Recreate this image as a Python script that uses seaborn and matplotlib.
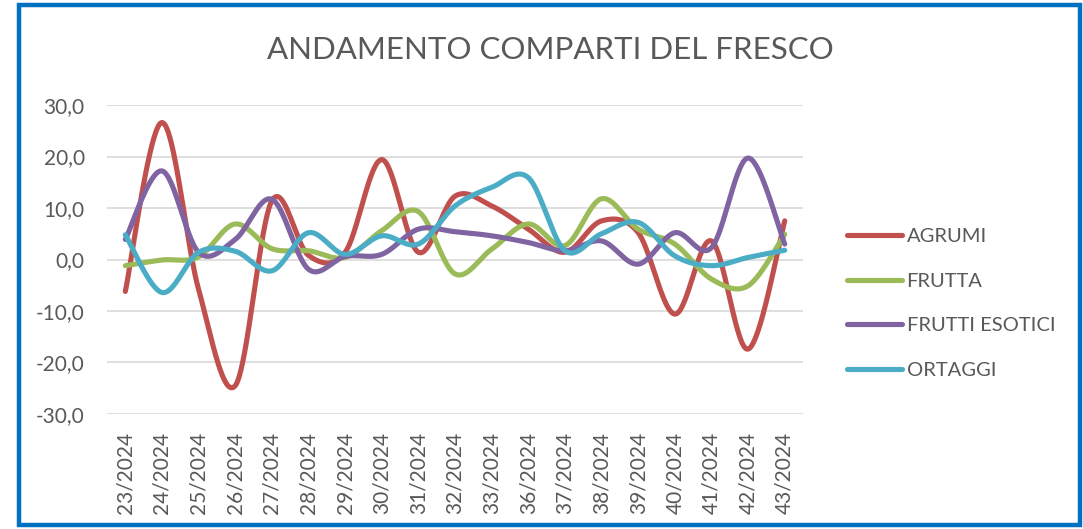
import numpy as np
import pandas as pd
import matplotlib
matplotlib.use("Agg")
import matplotlib.pyplot as plt
import seaborn as sns
from matplotlib.lines import Line2D
from matplotlib.patches import Rectangle

weeks = ["23/2024", "24/2024", "25/2024", "26/2024", "27/2024", "28/2024", "29/2024",
         "30/2024", "31/2024", "32/2024", "33/2024", "36/2024", "37/2024", "38/2024",
         "39/2024", "40/2024", "41/2024", "42/2024", "43/2024"]
agrumi = [-6.2, 26.6, -5.8, -24.5, 11.4, 0.8, 1.4, 19.4, 1.4, 12.3, 10.4, 5.9, 1.4, 7.5, 5.2, -10.6, 3.6, -17.4, 7.5]
frutta = [-1.2, -0.1, 0.5, 6.9, 2.1, 1.7, 0.4, 5.6, 9.3, -2.8, 2.0, 6.9, 2.7, 11.8, 5.9, 3.0, -3.8, -5.1, 4.9]
esotici = [3.9, 17.2, 1.4, 3.9, 11.7, -1.9, 0.6, 1.0, 5.9, 5.4, 4.6, 3.3, 1.7, 3.6, -0.9, 5.2, 2.3, 19.7, 3.0]
ortaggi = [4.8, -6.4, 1.4, 1.6, -2.2, 5.2, 1.0, 4.6, 3.0, 10.4, 14.0, 15.9, 1.7, 5.0, 7.2, 0.7, -1.2, 0.4, 1.8]

series = {"AGRUMI": agrumi, "FRUTTA": frutta, "FRUTTI ESOTICI": esotici, "ORTAGGI": ortaggi}
colors = {"AGRUMI": "#C0504D", "FRUTTA": "#9BBB59", "FRUTTI ESOTICI": "#8064A2", "ORTAGGI": "#4BACC6"}


def smooth(xs, ys, n=40):
    # Catmull-Rom style Bezier smoothing (as in spreadsheet "smoothed line")
    xs = np.asarray(xs, float)
    ys = np.asarray(ys, float)
    P = np.column_stack([xs, ys])
    out = []
    m = len(P)
    t = np.linspace(0, 1, n)[:, None]
    for i in range(m - 1):
        p0 = P[i - 1] if i > 0 else P[i]
        p1 = P[i]
        p2 = P[i + 1]
        p3 = P[i + 2] if i + 2 < m else P[i + 1]
        c1 = p1 + (p2 - p0) / 6.0
        c2 = p2 - (p3 - p1) / 6.0
        seg = ((1 - t) ** 3) * p1 + 3 * ((1 - t) ** 2) * t * c1 + 3 * (1 - t) * t ** 2 * c2 + t ** 3 * p2
        out.append(seg if i == 0 else seg[1:])
    arr = np.vstack(out)
    return arr[:, 0], arr[:, 1]


rows = []
xidx = np.arange(len(weeks))
for name, vals in series.items():
    sx, sy = smooth(xidx, vals)
    for a, b in zip(sx, sy):
        rows.append({"x": a, "y": b, "serie": name})
df = pd.DataFrame(rows)

sns.set_theme(style="white")
plt.rcParams["font.family"] = ["Lato", "DejaVu Sans"]

fig = plt.figure(figsize=(10.83, 5.29), dpi=100)
ax = fig.add_axes([0.0988, 0.2174, 0.6427, 0.5841])

sns.lineplot(data=df, x="x", y="y", hue="serie", palette=colors, sort=False,
             estimator=None, linewidth=3.7, ax=ax, legend=False,
             solid_capstyle="round")

ax.set_xlim(-0.5, len(weeks) - 0.5)
ax.set_ylim(-30, 30)
ax.set_yticks(np.arange(-30, 31, 10))
ax.set_yticklabels([f"{v:.1f}".replace(".", ",") for v in np.arange(-30, 31, 10)])
ax.set_xticks(xidx)
ax.set_xticklabels(weeks, rotation=90)
ax.tick_params(axis="x", length=0, labelsize=15, colors="#595959", pad=13)
ax.tick_params(axis="y", length=0, labelsize=15, colors="#595959", pad=16)
ax.grid(axis="y", color="#D9D9D9", linewidth=1.2)
ax.set_axisbelow(True)
for s in ax.spines.values():
    s.set_visible(False)
ax.set_xlabel("")
ax.set_ylabel("")

fig.text(0.508, 0.905, "ANDAMENTO COMPARTI DEL FRESCO", ha="center", va="center",
         fontsize=22.5, color="#595959")

handles = [Line2D([0], [0], color=colors[k], lw=3.7, solid_capstyle="round") for k in series]
fig.legend(handles, list(series.keys()), loc="upper left", bbox_to_anchor=(0.7655, 0.604),
           frameon=False, fontsize=14.5, labelcolor="#595959", handlelength=2.7,
           handletextpad=0.25, labelspacing=1.38)

fig.patches.append(Rectangle((0.0175, 0.008), 0.9795, 0.983, transform=fig.transFigure,
                             fill=False, edgecolor="#0070C0", linewidth=3.2))

fig.savefig("out.png", dpi=100)
